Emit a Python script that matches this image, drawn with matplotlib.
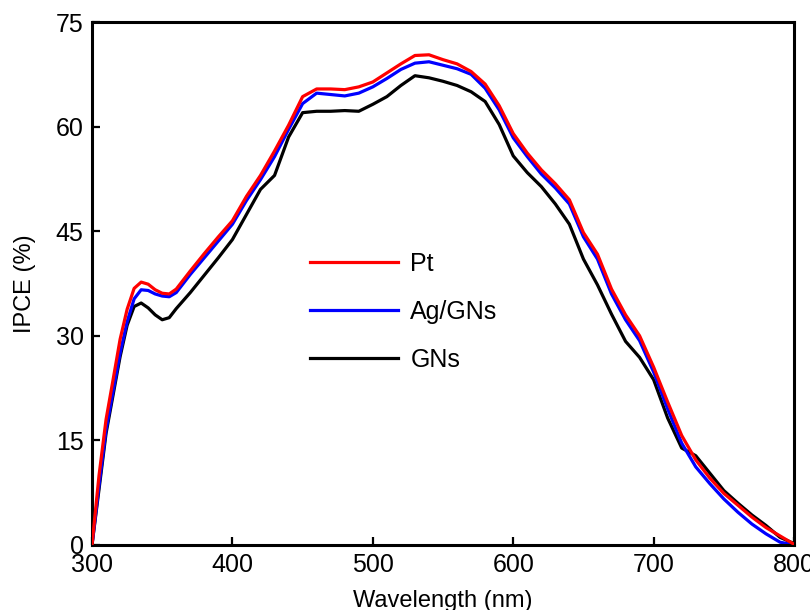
import matplotlib.pyplot as plt

plt.rcParams['font.family'] = ['Liberation Sans', 'DejaVu Sans']

wl = [300, 305, 310, 315, 320, 325, 330, 335, 340, 345, 350, 355, 360,
      370, 380, 390, 400, 410, 420, 430, 440, 450, 460, 470, 480, 490,
      500, 510, 520, 530, 540, 550, 560, 570, 580, 590, 600, 610, 620,
      630, 640, 650, 660, 670, 680, 690, 700, 710, 720, 730, 740, 750,
      760, 770, 780, 790, 800]

pt = [0, 10, 18, 23.7, 29.5, 33.8, 36.8, 37.7, 37.4, 36.6, 36.1, 36.0, 36.7,
      39.3, 41.8, 44.2, 46.5, 50.0, 53.0, 56.5, 60.2, 64.3, 65.4, 65.4, 65.3, 65.7,
      66.4, 67.7, 69.0, 70.2, 70.3, 69.6, 69.0, 67.9, 66.1, 63.0, 59.0, 56.2, 53.8,
      51.8, 49.5, 44.8, 41.7, 36.7, 33.0, 30.0, 25.5, 20.5, 15.7, 12.2, 9.6, 7.4,
      5.7, 4.0, 2.5, 1.3, 0.1]

ag_gns = [0, 8.5, 16.5, 22.0, 27.5, 32.0, 35.3, 36.6, 36.5, 36.0, 35.7, 35.6, 36.2,
          38.8, 41.2, 43.6, 46.0, 49.4, 52.4, 55.7, 59.6, 63.3, 64.8, 64.6, 64.4, 64.8,
          65.7, 66.9, 68.2, 69.1, 69.3, 68.8, 68.3, 67.5, 65.5, 62.4, 58.4, 55.7, 53.2,
          51.2, 48.9, 44.2, 41.0, 36.0, 32.3, 29.3, 24.8, 19.5, 14.6, 11.2, 8.8, 6.6,
          4.7, 3.0, 1.6, 0.4, 0]

gns = [0, 8.0, 16.0, 21.5, 27.0, 31.5, 34.2, 34.7, 34.0, 33.0, 32.3, 32.6, 33.9,
       36.2, 38.7, 41.2, 43.8, 47.4, 51.0, 53.0, 58.5, 62.0, 62.2, 62.2, 62.3, 62.2,
       63.2, 64.3, 65.9, 67.3, 67.0, 66.5, 65.9, 65.0, 63.6, 60.3, 55.8, 53.4, 51.4,
       48.9, 46.0, 41.0, 37.3, 33.1, 29.2, 26.9, 23.7, 18.2, 13.9, 12.8, 10.3, 7.8,
       6.0, 4.3, 2.8, 1.1, 0.2]

fig = plt.figure(figsize=(8.1, 6.1), dpi=100)
ax = fig.add_axes([0.1136, 0.1066, 0.8667, 0.8573])

ax.plot(wl, pt, color='red', lw=2.3, label='Pt', zorder=3)
ax.plot(wl, ag_gns, color='blue', lw=2.3, label='Ag/GNs', zorder=2)
ax.plot(wl, gns, color='black', lw=2.3, label='GNs', zorder=1)

ax.set_xlim(300, 800)
ax.set_ylim(0, 75)
ax.set_xticks([300, 400, 500, 600, 700, 800])
ax.set_yticks([0, 15, 30, 45, 60, 75])

for s in ax.spines.values():
    s.set_linewidth(2.2)
ax.tick_params(direction='in', length=6, width=1.6, labelsize=18, pad=6,
               top=False, right=False)

ax.set_xlabel('Wavelength (nm)', fontsize=17, labelpad=9)
ax.set_ylabel('IPCE (%)', fontsize=17, labelpad=14)

ax.legend(loc='upper left', bbox_to_anchor=(0.279, 0.603), frameon=False,
          fontsize=18, handlelength=3.5, handletextpad=0.5, labelspacing=0.95)

plt.savefig('out.png', dpi=100)
